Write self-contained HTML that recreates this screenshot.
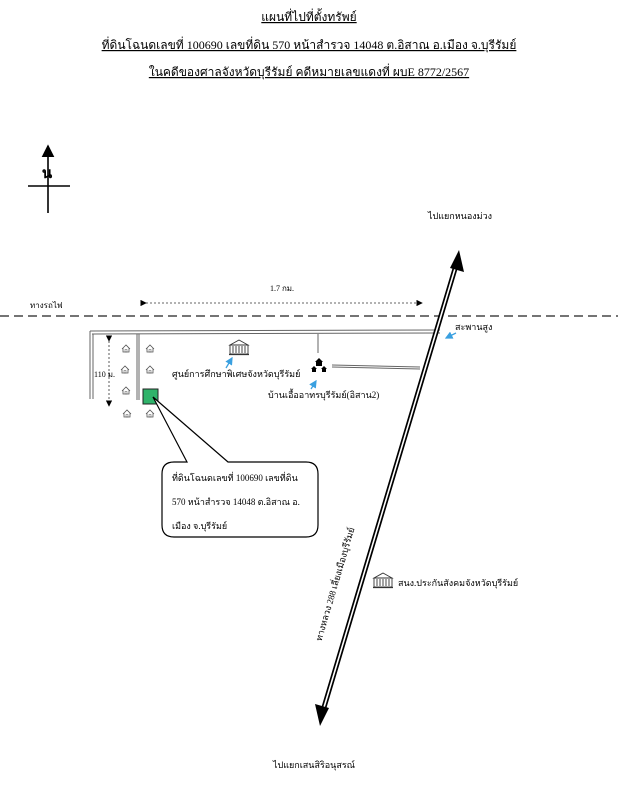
<!DOCTYPE html>
<html><head><meta charset="utf-8"><style>
html,body{margin:0;padding:0;background:#fff;}
svg{display:block;font-family:"Liberation Serif","Noto Serif CJK SC","Noto Sans CJK SC",serif;}
</style></head><body>
<svg width="618" height="800" viewBox="0 0 618 800" xmlns="http://www.w3.org/2000/svg">
<defs>
<marker id="ah" markerWidth="8" markerHeight="8" refX="7" refY="4" orient="auto"><path d="M0,0 L8,4 L0,8 z" fill="#000"/></marker>
<marker id="bh" markerWidth="6" markerHeight="6" refX="5" refY="3" orient="auto"><path d="M0,0 L6,3 L0,6 z" fill="#3aa0e0"/></marker>
<g id="house"><path d="M-4,1 L0,-3 L4,1 M-3,0 V4 H3 V0" fill="none" stroke="#555" stroke-width="0.8"/><rect x="-1" y="1.5" width="2" height="2.5" fill="none" stroke="#555" stroke-width="0.5"/></g>
<g id="bldg"><path d="M-9,-2 L0,-7 L9,-2 Z" fill="none" stroke="#333" stroke-width="0.9"/><rect x="-9" y="-2" width="18" height="9" fill="none" stroke="#333" stroke-width="0.9"/><path d="M-6,-1 V6 M-3,-1 V6 M0,-1 V6 M3,-1 V6 M6,-1 V6" stroke="#333" stroke-width="0.9"/><line x1="-10" y1="7.5" x2="10" y2="7.5" stroke="#333" stroke-width="1.2"/></g>
</defs>
<g font-size="12" text-anchor="middle" fill="#000">
<text x="309" y="21" text-decoration="underline">แผนที่ไปที่ตั้งทรัพย์</text>
<text x="309" y="49" text-decoration="underline">ที่ดินโฉนดเลขที่ 100690 เลขที่ดิน 570 หน้าสำรวจ 14048 ต.อิสาณ อ.เมือง จ.บุรีรัมย์</text>
<text x="309" y="76" text-decoration="underline">ในคดีของศาลจังหวัดบุรีรัมย์ คดีหมายเลขแดงที่ ผบE 8772/2567</text>
</g>
<line x1="48" y1="213" x2="48" y2="146" stroke="#000" stroke-width="1.6" marker-end="url(#ah)"/>
<line x1="28" y1="186" x2="70" y2="186" stroke="#000" stroke-width="1.6"/>
<text x="47" y="178" font-size="15" text-anchor="middle" font-weight="bold">น</text>
<text x="460" y="219" font-size="9" text-anchor="middle">ไปแยกหนองม่วง</text>
<text x="30" y="308" font-size="8">ทางรถไฟ</text>
<line x1="0" y1="316" x2="618" y2="316" stroke="#222" stroke-width="1.3" stroke-dasharray="9,5"/>
<text x="282" y="291" font-size="8" text-anchor="middle">1.7 กม.</text>
<line x1="146" y1="303" x2="422" y2="303" stroke="#333" stroke-width="0.8" stroke-dasharray="2,2" marker-start="url(#ah)" marker-end="url(#ah)"/>
<g stroke="#666" stroke-width="1">
<line x1="90" y1="331" x2="440" y2="330"/><line x1="92" y1="334" x2="440" y2="333"/>
<line x1="90" y1="331" x2="90" y2="399"/><line x1="93" y1="334" x2="93" y2="399"/>
<line x1="137" y1="334" x2="137" y2="400"/><line x1="139" y1="334" x2="139" y2="400"/>
<line x1="318" y1="334" x2="318" y2="353"/>
<line x1="332" y1="365" x2="420" y2="367"/><line x1="332" y1="367" x2="420" y2="369"/>
</g>
<line x1="109" y1="341" x2="109" y2="406" stroke="#333" stroke-width="0.8" stroke-dasharray="2,2" marker-start="url(#ah)" marker-end="url(#ah)"/>
<text x="94" y="377" font-size="8">110 ม.</text>
<use href="#house" x="126" y="348"/><use href="#house" x="150" y="348"/>
<use href="#house" x="125" y="369"/><use href="#house" x="150" y="369"/>
<use href="#house" x="126" y="390"/>
<use href="#house" x="127" y="413"/><use href="#house" x="150" y="413"/>
<rect x="143" y="389" width="15" height="15" fill="#2fb36a" stroke="#222" stroke-width="1"/>
<line x1="457" y1="262" x2="322" y2="714" stroke="#000" stroke-width="5"/>
<line x1="457" y1="262" x2="322" y2="714" stroke="#fff" stroke-width="1.6"/>
<path d="M459,250 L464,272 L450,268 Z" fill="#000"/>
<path d="M320,726 L315,704 L329,708 Z" fill="#000"/>
<text transform="translate(338,585) rotate(-73.7)" font-size="9" text-anchor="middle">ทางหลวง 288 เลี่ยงเมืองบุรีรัมย์</text>
<text x="455" y="330" font-size="9">สะพานสูง</text>
<line x1="456" y1="333" x2="446" y2="338" stroke="#3aa0e0" stroke-width="1.3" marker-end="url(#bh)"/>
<use href="#bldg" x="239" y="347"/>
<line x1="226" y1="368" x2="232" y2="358" stroke="#3aa0e0" stroke-width="1.3" marker-end="url(#bh)"/>
<text x="172" y="377" font-size="9">ศูนย์การศึกษาพิเศษจังหวัดบุรีรัมย์</text>
<g fill="#000"><path d="M319,358 l4,4 h-8 z M316,362 h6 v4 h-6z"/><path d="M314,366 l3,3 h-6 z M312,369 h4 v3 h-4z M324,366 l3,3 h-6 z M322,369 h4 v3 h-4z"/></g>
<line x1="311" y1="389" x2="316" y2="381" stroke="#3aa0e0" stroke-width="1.3" marker-end="url(#bh)"/>
<text x="268" y="398" font-size="9">บ้านเอื้ออาทรบุรีรัมย์(อิสาน2)</text>
<use href="#bldg" x="383" y="580"/>
<text x="398" y="586" font-size="9">สนง.ประกันสังคมจังหวัดบุรีรัมย์</text>
<text x="314" y="768" font-size="9" text-anchor="middle">ไปแยกเสนสิริอนุสรณ์</text>
<path d="M174,462 H187 L153,397 L228,462 H306 Q318,462 318,474 V525 Q318,537 306,537 H174 Q162,537 162,525 V474 Q162,462 174,462 Z" fill="#fff" stroke="#000" stroke-width="1.2"/>
<g font-size="9"><text x="172" y="481">ที่ดินโฉนดเลขที่ 100690 เลขที่ดิน</text>
<text x="172" y="505">570 หน้าสำรวจ 14048 ต.อิสาณ อ.</text>
<text x="172" y="529">เมือง จ.บุรีรัมย์</text></g>
</svg>
</body></html>
